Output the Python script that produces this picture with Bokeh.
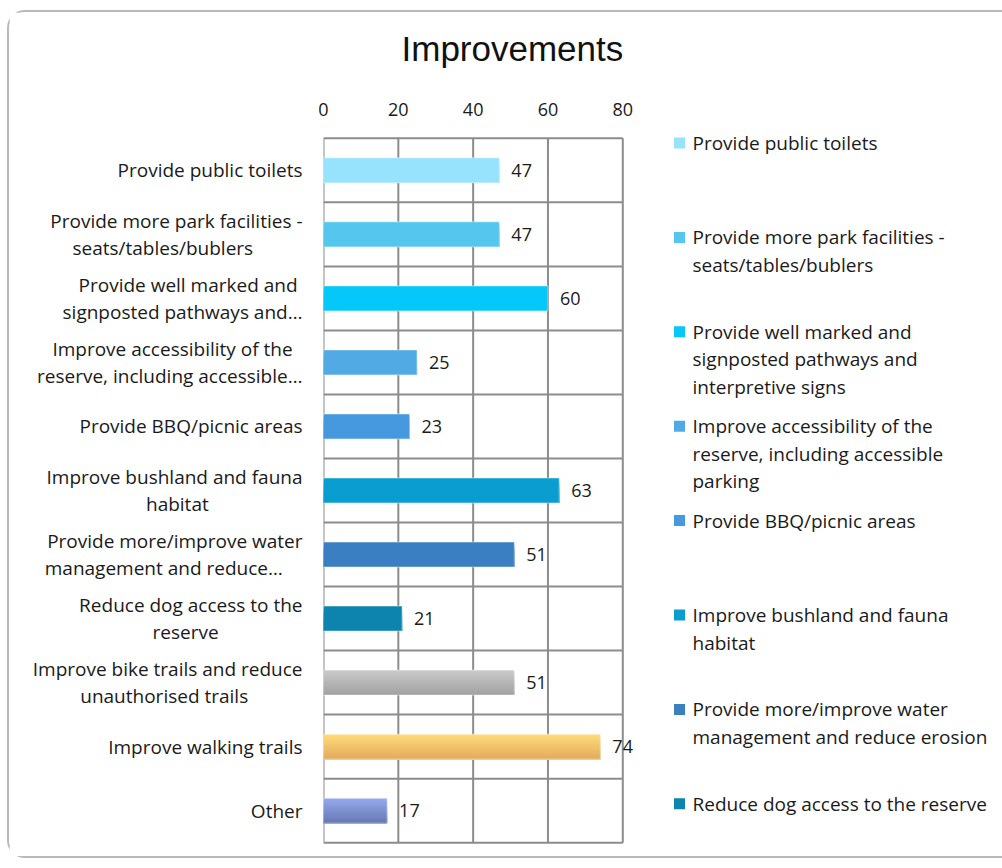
from bokeh.plotting import figure
from bokeh.models import ColumnDataSource, Range1d, FixedTicker, Label, Row
from bokeh.embed import file_html
from bokeh.resources import INLINE

# ---- data -------------------------------------------------------------
categories = [
    "Provide public toilets",
    "Provide more park facilities -\nseats/tables/bublers",
    "Provide well marked and\nsignposted pathways and\u2026",
    "Improve accessibility of the\nreserve, including accessible\u2026",
    "Provide BBQ/picnic areas",
    "Improve bushland and fauna\nhabitat",
    "Provide more/improve water\nmanagement and reduce\u2026",
    "Reduce dog access to the\nreserve",
    "Improve bike trails and reduce\nunauthorised trails",
    "Improve walking trails",
    "Other",
]
counts = [47, 47, 60, 25, 23, 63, 51, 21, 51, 74, 17]
legend_labels = [
    "Provide public toilets",
    "Provide more park facilities -\nseats/tables/bublers",
    "Provide well marked and\nsignposted pathways and\ninterpretive signs",
    "Improve accessibility of the\nreserve, including accessible\nparking",
    "Provide BBQ/picnic areas",
    "Improve bushland and fauna\nhabitat",
    "Provide more/improve water\nmanagement and reduce erosion",
    "Reduce dog access to the reserve",
    "Improve bike trails and reduce unauthorised trails",
    "Improve walking trails",
    "Other",
]
# fill colour at the top and at the bottom of each bar
bar_top = ["#97E3FD", "#55C6EE", "#05C8F9", "#52AAE4", "#4699DE",
           "#0A9DCF", "#3B7FC1", "#0C84AE", "#C9C9C9", "#FFDA7A", "#93A8EB"]
bar_bottom = ["#97E3FD", "#55C6EE", "#05C8F9", "#52AAE4", "#4699DE",
              "#0A9DCF", "#3B7FC1", "#0C84AE", "#A2A2A2", "#E3AC5E", "#6879B6"]
x_ticks = [0, 20, 40, 60, 80]

FONT = "Open Sans"
TITLE_FONT = "Liberation Sans"
GRID = "#8c8c8c"
TEXT = "#1a1a1a"
BAR_H = 0.39
SLICES = 12


def centre_lines(label):
    """Pad the shorter lines of a wrapped label so they sit centred
    under the longest line when the block is right-aligned."""
    lines = label.split("\n")
    if len(lines) == 1:
        return label
    w = max(len(s) for s in lines)
    return "\n".join(s + "\u00a0" * (w - len(s)) for s in lines)


def mix(c1, c2, t):
    a = [int(c1[k:k + 2], 16) for k in (1, 3, 5)]
    b = [int(c2[k:k + 2], 16) for k in (1, 3, 5)]
    return "#" + "".join(f"{round(x + (y - x) * t):02x}" for x, y in zip(a, b))


n_cat = len(categories)
pos = [n_cat - i - 0.5 for i in range(n_cat)]   # row centres, top to bottom

# plot box: the frame is a little larger than the gridded area so that
# value labels and legend text are never cut at its edges
Y_LO, Y_HI = -0.2, n_cat + 0.2
X_HI = 85
FRAME_W, FRAME_H = 318, 730
TOP, BOTTOM, LEFT, RIGHT = 113, 1, 314, 4
UNIT = FRAME_H / (Y_HI - Y_LO)                  # pixels per row

# ---- main bar chart ---------------------------------------------------
p = figure(frame_width=FRAME_W, frame_height=FRAME_H,
           output_backend="svg", toolbar_location=None,
           y_range=Range1d(Y_LO, Y_HI), x_range=Range1d(0, X_HI),
           x_axis_location="above",
           min_border_left=LEFT, min_border_right=RIGHT,
           min_border_top=TOP, min_border_bottom=BOTTOM)

# grid box drawn from the ticks (rows are bounded by lines)
row_edges = list(range(n_cat + 1))
p.segment(x0=[0] * len(row_edges), x1=[x_ticks[-1]] * len(row_edges),
          y0=row_edges, y1=row_edges, line_color=GRID, line_width=2)
p.segment(x0=x_ticks, x1=x_ticks, y0=[0] * len(x_ticks),
          y1=[n_cat] * len(x_ticks), line_color=GRID, line_width=2)

# each bar is painted as nested strips so its fill shades top -> bottom
sl_y, sl_h, sl_r, sl_c = [], [], [], []
dh = BAR_H / SLICES
for i in range(n_cat):
    top_edge, bot_edge = pos[i] + BAR_H / 2, pos[i] - BAR_H / 2
    for k in range(SLICES):
        t = top_edge - k * dh
        sl_y.append((t + bot_edge) / 2)
        sl_h.append(t - bot_edge)
        sl_r.append(counts[i])
        sl_c.append(mix(bar_top[i], bar_bottom[i], k / (SLICES - 1)))
p.hbar(y="y", height="h", right="r", fill_color="c", line_color=None,
       source=ColumnDataSource(dict(y=sl_y, h=sl_h, r=sl_r, c=sl_c)))
# faint light rim around each bar
p.hbar(y=pos, right=counts, height=BAR_H, fill_color=None,
       line_color="white", line_alpha=0.45, line_width=1)

for v, y in zip(counts, pos):
    p.add_layout(Label(x=v, y=y, text=str(v), x_offset=12,
                       text_baseline="middle", text_align="left",
                       text_font=FONT, text_font_size="18px",
                       text_color=TEXT))

p.title.text = "Improvements"
p.title.text_font = TITLE_FONT
p.title.text_font_size = "35px"
p.title.text_font_style = "normal"
p.title.align = "left"
p.title.offset = 78
p.title.standoff = 20
p.title.text_color = "#111111"

xa = p.xaxis[0]
xa.ticker = FixedTicker(ticks=x_ticks)
xa.major_label_text_font = FONT
xa.major_label_text_font_size = "18px"
xa.major_label_text_color = TEXT
xa.major_label_standoff = 4
xa.axis_label = " "
xa.axis_label_text_font_size = "8px"
xa.axis_label_standoff = 10
xa.axis_line_color = None
xa.major_tick_line_color = None
xa.minor_tick_line_color = None

ya = p.yaxis[0]
ya.ticker = FixedTicker(ticks=pos)
ya.major_label_overrides = {y: centre_lines(c) for y, c in zip(pos, categories)}
ya.major_label_text_font = FONT
ya.major_label_text_font_size = "19px"
ya.major_label_text_line_height = 1.05
ya.major_label_text_color = TEXT
ya.major_label_standoff = 15
ya.axis_line_color = None
ya.major_tick_line_color = None
ya.minor_tick_line_color = None

p.grid.visible = False
p.outline_line_color = None
p.background_fill_color = "white"
p.border_fill_color = "white"

# ---- legend panel (shares the bar chart's vertical scale) -------------
first, pitch, line_pitch = 4.7, 94.4, 27.5      # pixels below the grid top
rows = [i for i in range(n_cat)
        if n_cat - (first + i * pitch) / UNIT > Y_LO + 0.1]

lg = figure(width=357, frame_height=FRAME_H, output_backend="svg",
            toolbar_location=None, x_range=Range1d(0, 357), y_range=p.y_range,
            min_border_left=0, min_border_right=0,
            min_border_top=TOP, min_border_bottom=BOTTOM)
lg.axis.visible = False
lg.grid.visible = False
lg.outline_line_color = None
lg.background_fill_color = "white"
lg.border_fill_color = "white"
lg.scatter(x=[34] * len(rows),
           y=[n_cat - (first + i * pitch) / UNIT for i in rows],
           marker="square", size=11,
           fill_color=[bar_top[i] for i in rows], line_color=None)
for i in rows:
    for j, s in enumerate(legend_labels[i].split("\n")):
        lg.add_layout(Label(x=47,
                            y=n_cat - (first + i * pitch + j * line_pitch) / UNIT,
                            text=s, text_baseline="middle", text_align="left",
                            text_font=FONT, text_font_size="19px",
                            text_color=TEXT))

layout = Row(children=[p, lg], spacing=0, margin=(10, 0, 0, 7),
             styles={"border-top": "2px solid #b9b9b9",
                     "border-left": "2px solid #b9b9b9",
                     "border-bottom": "2px solid #b9b9b9",
                     "border-top-left-radius": "18px",
                     "border-bottom-left-radius": "18px",
                     "background": "white"})

open("out.html", "w").write(file_html(layout, INLINE))
